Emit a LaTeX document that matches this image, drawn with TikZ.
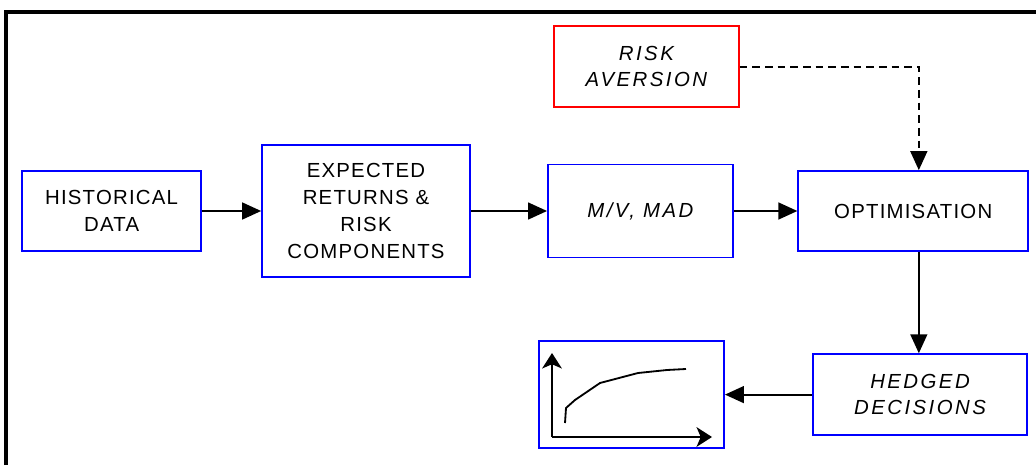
\documentclass[tikz,border=0pt]{standalone}
\usepackage{fontspec}
\setmainfont{Liberation Sans}
\newfontfamily\boxfont[LetterSpace=6]{Liberation Sans}
\newfontfamily\slantfont[LetterSpace=12]{Liberation Sans}
\usepackage{tikz}
\usetikzlibrary{arrows.meta,positioning}

\begin{document}
\begin{tikzpicture}[
	stage/.style={draw=blue, line width=1.2pt, inner sep=0, align=center,
		font=\boxfont\fontsize{14.5}{19}\selectfont},
	slanted/.style={stage, font=\slantfont\itshape\fontsize{14.5}{19}\selectfont},
	flow/.style={line width=1.3pt, -{Triangle[length=13.5pt,width=12pt]}},
	axis/.style={line width=1.3pt, -{Stealth[length=11pt,width=14pt,inset=3pt]}}
]
\useasboundingbox (0,0) rectangle (25.9,11.625);
% outer frame
\draw[line width=2.2pt] (0.15,0) |- (25.9,11.325);

\node[stage, minimum width=4.475cm, minimum height=2cm] (hist) at (2.79,6.35) {HISTORICAL\\DATA};
\node[stage, minimum width=5.2cm, minimum height=3.3cm] (exp) at (9.15,6.35) {EXPECTED\\RETURNS \&\\RISK\\COMPONENTS};
\node[slanted, minimum width=4.625cm, minimum height=2.325cm] (mv) at (16.01,6.35) {M/V, MAD};
\node[stage, minimum width=5.75cm, minimum height=2cm] (opt) at (22.83,6.35) {OPTIMISATION};
\node[slanted, draw=red, minimum width=4.625cm, minimum height=2.025cm] (risk) at (16.16,9.96) {RISK\\AVERSION};
\node[slanted, minimum width=5.35cm, minimum height=2.025cm] (hedge) at (23.0,1.76) {HEDGED\\DECISIONS};
\node[stage, minimum width=4.625cm, minimum height=2.675cm] (plot) at (15.79,1.76) {};

% frontier sketch
\coordinate (orig) at (13.8,0.7);
\draw[axis] (orig) -- (13.8,2.8);
\draw[axis] (orig) -- (17.8,0.7);
\draw[line width=1.3pt, line join=round] (14.125,1.05) -- (14.15,1.425) -- (14.375,1.625) -- (15.0,2.05)
	-- (15.95,2.3) -- (16.675,2.375) -- (17.15,2.4);

\draw[flow] (hist) -- (exp);
\draw[flow] (exp) -- (mv);
\draw[flow] (mv) -- (opt);
\draw[flow, dash pattern=on 5.5pt off 3.5pt] (risk.east) -| ([xshift=4pt]opt.north);
\draw[flow] ([xshift=4pt]opt.south) -- ([xshift=4pt]opt.south |- hedge.north);
\draw[flow] (hedge) -- (plot);
\end{tikzpicture}
\end{document}
